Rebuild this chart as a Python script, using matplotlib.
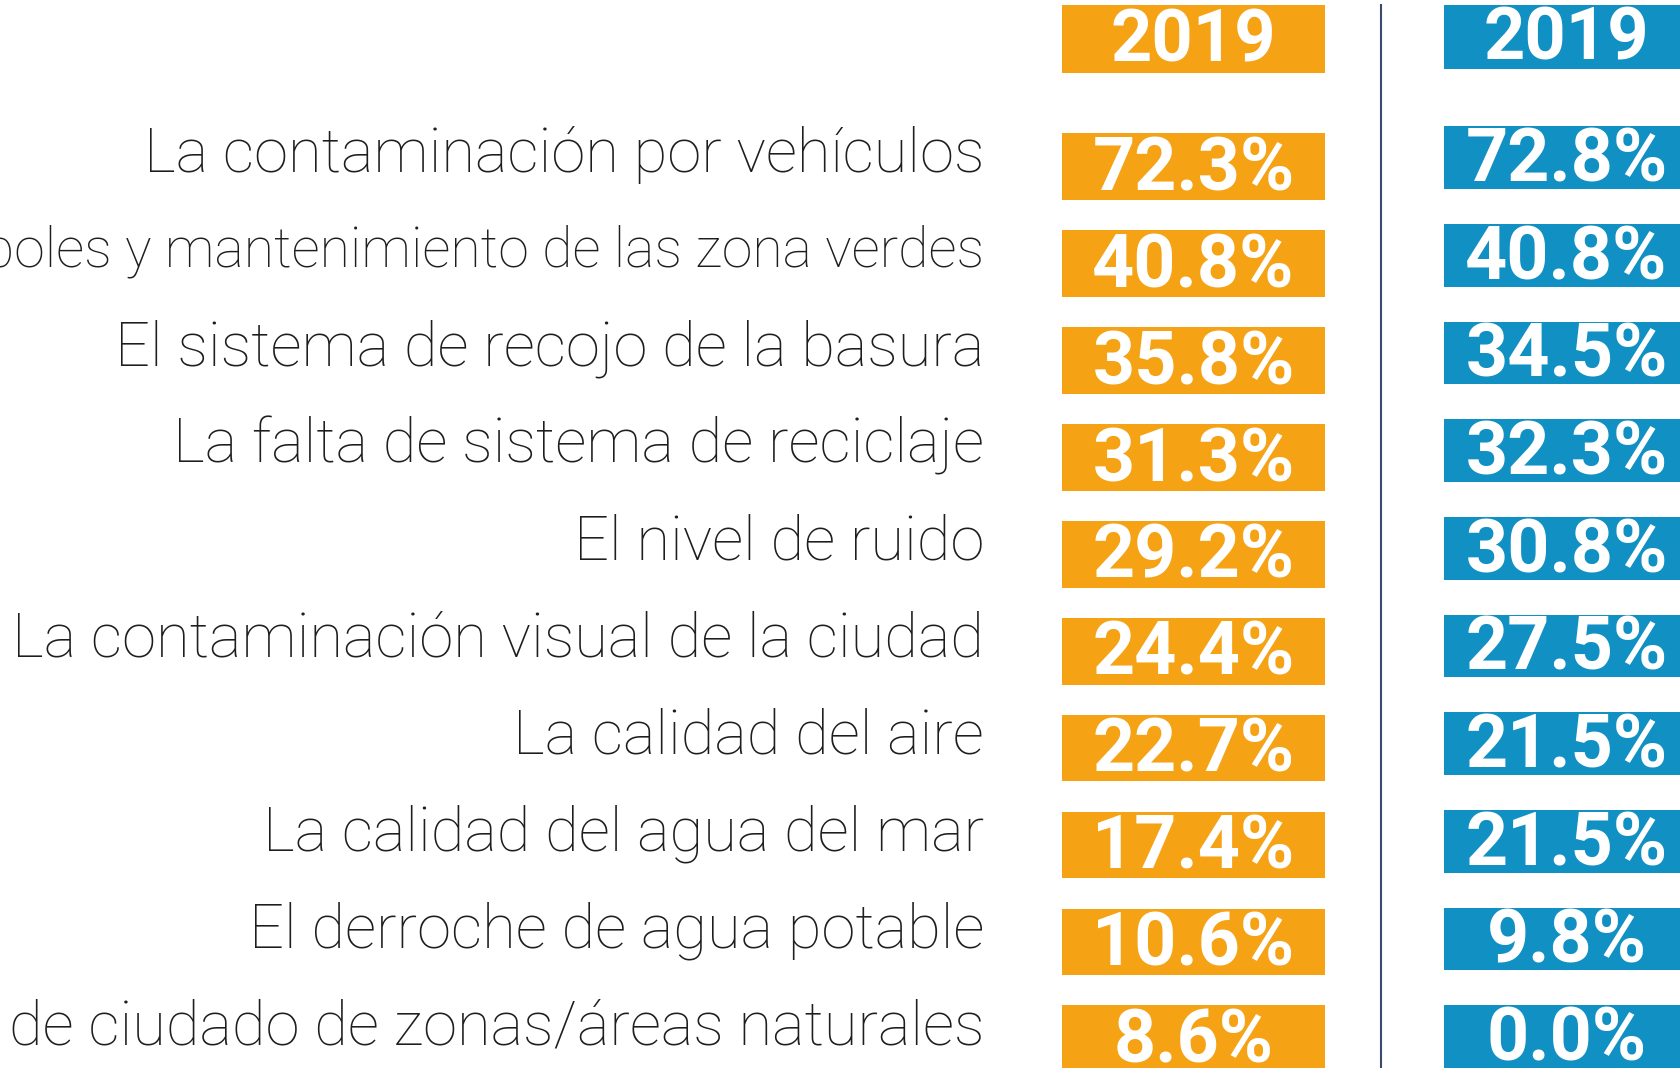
import matplotlib.pyplot as plt
import matplotlib.transforms as mtransforms
from matplotlib.lines import Line2D
import numpy as np

# table content
categories = [
    "La contaminación por vehículos",
    "árboles y mantenimiento de las zona verdes",
    "El sistema de recojo de la basura",
    "La falta de sistema de reciclaje",
    "El nivel de ruido",
    "La contaminación visual de la ciudad",
    "La calidad del aire",
    "La calidad del agua del mar",
    "El derroche de agua potable",
    "de ciudado de zonas/áreas naturales",
]
values_left = [72.3, 40.8, 35.8, 31.3, 29.2, 24.4, 22.7, 17.4, 10.6, 8.6]
values_right = [72.8, 40.8, 34.5, 32.3, 30.8, 27.5, 21.5, 21.5, 9.8, 0.0]
header_left = "2019"
header_right = "2019"

orange = "#F5A214"
blue = "#1190C4"

fig = plt.figure(figsize=(16.81, 10.68), dpi=100)
fig.patch.set_facecolor("white")

rows = np.arange(len(categories))


def draw_column(ax, values, header, color, header_pos, bar_h, head_h, text_x):
    ax.barh(rows, 1, height=bar_h, left=0, color=color, zorder=2)
    ax.barh([header_pos], 1, height=head_h, left=0, color=color, zorder=2)
    for r, v in zip(rows, values):
        ax.text(text_x, r + 0.04, f"{v:.1f}%", ha="center", va="center",
                color="white", fontsize=53, fontweight="bold",
                family=["Roboto", "DejaVu Sans"], zorder=3)
    ax.text(text_x, header_pos + 0.03, header, ha="center", va="center",
            color="white", fontsize=52, fontweight="bold",
            family=["Roboto", "DejaVu Sans"], zorder=3)
    ax.set_xlim(0, 1)
    for s in ax.spines.values():
        s.set_visible(False)
    ax.set_xticks([])
    ax.set_yticks([])


# left (orange) column
ax1 = fig.add_axes([0.632, 0.0, 0.156, 1.0])
draw_column(ax1, values_left, header_left, orange, -1.311, 0.69, 0.70, 0.5)
ax1.set_ylim(9.30, -1.715)

# row labels, right aligned left of the orange column
label_trans = mtransforms.blended_transform_factory(ax1.transAxes, ax1.transData)
for r, cat in zip(rows, categories):
    ax1.text(-0.298, r - 0.12, cat, transform=label_trans, ha="right",
             va="center", fontsize=40 if r == 1 else 44.3, color="#1e1e1e",
             fontweight="light", family=["Roboto", "DejaVu Sans"],
             clip_on=False)

# right (blue) column, runs off the right edge
ax2 = fig.add_axes([0.859, 0.0, 0.156, 1.0])
draw_column(ax2, values_right, header_right, blue, -1.235, 0.64, 0.65, 0.467)
ax2.set_ylim(9.32, -1.614)

# divider between the two columns
fig.add_artist(Line2D([0.8214, 0.8214], [0.0, 0.995], transform=fig.transFigure,
                      color="#3B4A6B", linewidth=1.5))

fig.savefig("out.png", dpi=100)
